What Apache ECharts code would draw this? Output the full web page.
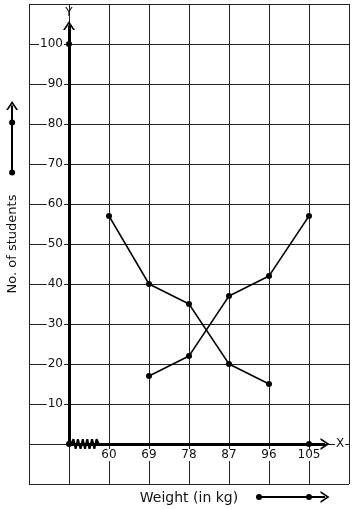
<!DOCTYPE html>
<html>
<head>
<meta charset="utf-8">
<title>Weight vs No. of students</title>
<script src="https://cdn.jsdelivr.net/npm/echarts@6/dist/echarts.min.js"></script>
<style>
    html, body { margin: 0; padding: 0; background: #fff; }
    #main { width: 354px; height: 510px; }
</style>
</head>
<body>
<div id="main"></div>
<script>
    // tick labels
    var weightTicks = [60, 69, 78, 87, 96, 105];
    var studentTicks = [10, 20, 30, 40, 50, 60, 70, 80, 90, 100];

    // first broken line
    var weightA = [60, 69, 78, 87, 96];
    var studentsA = [57, 40, 35, 20, 15];
    // second broken line
    var weightB = [69, 78, 87, 96, 105];
    var studentsB = [17, 22, 37, 42, 57];

    // dots on the axes and on the two small arrows
    var dotX = [51, 51, 105, 38.2, 38.2, 93.75, 105];
    var dotY = [0, 100, 0, 67.9, 80.4, -13.25, -13.25];

    // kink mark near the origin
    var kinkX = [51.5, 52.0, 52.5, 53.0, 53.6, 54.1, 54.6, 55.1, 55.6, 56.2, 56.7, 57.2, 57.7];
    var kinkY = [0, 1.2, -1.2, 1.2, -1.2, 1.2, -1.2, 1.2, -1.2, 1.2, -1.2, 1.2, 0];

    // arrows: axes, then the two small arrows outside the grid
    var arrowFrom = [[51, 0], [51, 0], [38.2, 67.9], [93.75, -13.25]];
    var arrowTo = [[51, 104.6], [108.6, 0], [38.2, 84.6], [108.6, -13.25]];
    var arrowWidth = [3, 3, 2, 2];

    function pairs(xs, ys) {
        return xs.map(function (x, i) { return [x, ys[i]]; });
    }

    var chevron = 'path://M0,10 L5,0 L10,10 L8.4,10 L5,3.2 L1.6,10 Z';
    var font = 'DejaVu Sans';

    var myChart = echarts.init(document.getElementById('main'));
    myChart.setOption({
        animation: false,
        backgroundColor: '#fff',
        grid: { left: 29, top: 4, right: 5, bottom: 26, outerBoundsMode: 'none' },
        xAxis: [
            {
                type: 'value', min: 42, max: 114, interval: 9,
                position: 'bottom', offset: -40,
                name: 'X', nameLocation: 'end', nameGap: -14,
                nameTextStyle: { color: '#111', fontSize: 12, fontFamily: font, backgroundColor: '#fff', padding: [0, 1] },
                axisLine: { show: false, onZero: false },
                axisTick: { show: false },
                splitLine: { show: true, lineStyle: { color: '#222', width: 1 } },
                axisLabel: {
                    margin: 5, color: '#111', fontSize: 12, fontFamily: font, backgroundColor: '#fff',
                    formatter: function (v) { return weightTicks.indexOf(v) >= 0 ? String(v) : ''; }
                }
            },
            {
                type: 'value', min: 42, max: 114, position: 'bottom',
                name: 'Weight (in kg)', nameLocation: 'middle', nameGap: 7,
                nameTextStyle: { color: '#111', fontSize: 14, fontFamily: font },
                axisLine: { show: false, onZero: false },
                axisTick: { show: false }, axisLabel: { show: false }, splitLine: { show: false }
            }
        ],
        yAxis: [
            {
                type: 'value', min: -10, max: 110, interval: 10, offset: -40,
                name: 'Y', nameLocation: 'end', nameGap: -3, nameMoveOverlap: false,
                nameTextStyle: { color: '#111', fontSize: 12, fontFamily: font, align: 'center', verticalAlign: 'top' },
                axisLine: { show: false, onZero: false },
                axisTick: { show: false },
                splitLine: { show: true, lineStyle: { color: '#222', width: 1 } },
                axisLabel: {
                    margin: 5, color: '#111', fontSize: 12, fontFamily: font, backgroundColor: '#fff', padding: [0, 1],
                    formatter: function (v) { return studentTicks.indexOf(v) >= 0 ? String(v) : ''; }
                }
            },
            {
                type: 'value', min: -10, max: 110, position: 'left',
                name: 'No. of students', nameLocation: 'middle', nameGap: 10,
                nameTextStyle: { color: '#111', fontSize: 13, fontFamily: font },
                axisLine: { show: false, onZero: false },
                axisTick: { show: false }, axisLabel: { show: false }, splitLine: { show: false }
            }
        ],
        series: [
            {
                type: 'line', data: pairs(weightA, studentsA),
                symbol: 'circle', symbolSize: 6, color: '#000',
                lineStyle: { color: '#000', width: 1.5 }
            },
            {
                type: 'line', data: pairs(weightB, studentsB),
                symbol: 'circle', symbolSize: 6, color: '#000',
                lineStyle: { color: '#000', width: 1.5 }
            },
            {
                type: 'line', data: pairs(kinkX, kinkY),
                showSymbol: false, lineStyle: { color: '#000', width: 2 }
            },
            {
                type: 'lines', coordinateSystem: 'cartesian2d', clip: false, silent: true,
                symbol: ['none', chevron], symbolSize: [[0, 0], [12, 9]],
                lineStyle: { color: '#000', opacity: 1 },
                data: arrowFrom.map(function (p, i) {
                    return { coords: [p, arrowTo[i]], lineStyle: { color: '#000', opacity: 1, width: arrowWidth[i] } };
                })
            },
            {
                type: 'scatter', clip: false, silent: true,
                data: pairs(dotX, dotY), symbolSize: 6, itemStyle: { color: '#000', opacity: 1 }
            }
        ]
    });
</script>
</body>
</html>
